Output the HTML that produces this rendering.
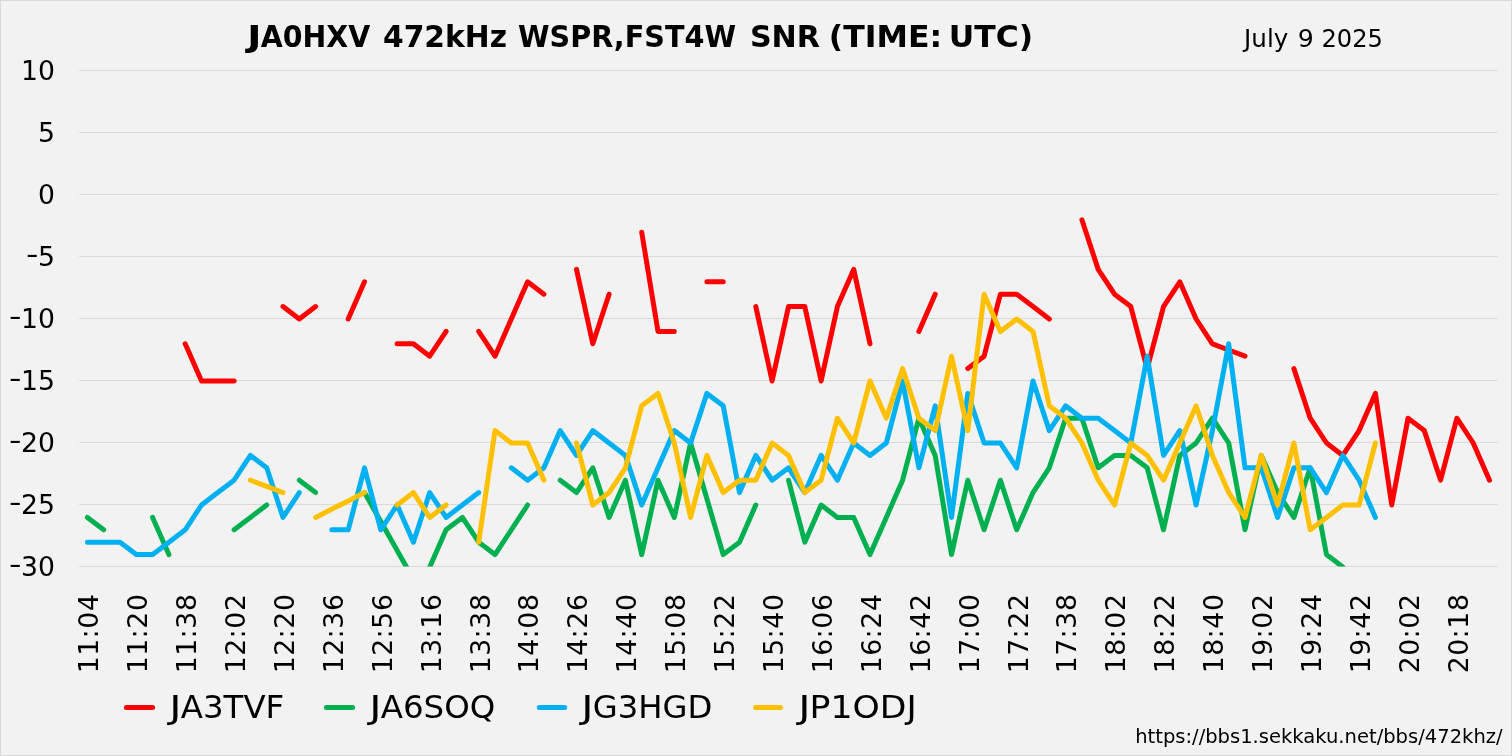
<!DOCTYPE html>
<html lang="en"><head><meta charset="utf-8"><title>JA0HXV 472kHz WSPR,FST4W SNR</title>
<style>html,body{margin:0;padding:0;background:#f2f2f2;}svg{display:block;}text{font-family:"DejaVu Sans","Liberation Sans",sans-serif;fill:#000;}</style></head><body>
<svg width="1512" height="756" viewBox="0 0 1512 756">
<rect x="0.5" y="0.5" width="1511" height="755" fill="#f2f2f2" stroke="#d9d9d9" stroke-width="1"/>
<path d="M79.2,70.5 H1497.7 M79.2,132.5 H1497.7 M79.2,194.5 H1497.7 M79.2,256.5 H1497.7 M79.2,318.5 H1497.7 M79.2,380.5 H1497.7 M79.2,442.5 H1497.7 M79.2,504.5 H1497.7 M79.2,566.5 H1497.7" stroke="#d9d9d9" stroke-width="1" fill="none"/>
<text x="21.1" y="79.6" font-size="26.67">10</text>
<text x="38.0" y="141.6" font-size="26.67">5</text>
<text x="38.0" y="203.6" font-size="26.67">0</text>
<text y="265.6" font-size="26.67"><tspan x="26.0" textLength="12.5" lengthAdjust="spacingAndGlyphs" dy="-2.3">-</tspan><tspan x="38.0" dy="2.3">5</tspan></text>
<text y="327.6" font-size="26.67"><tspan x="9.1" textLength="12.5" lengthAdjust="spacingAndGlyphs" dy="-2.3">-</tspan><tspan x="21.1" dy="2.3">10</tspan></text>
<text y="389.6" font-size="26.67"><tspan x="9.1" textLength="12.5" lengthAdjust="spacingAndGlyphs" dy="-2.3">-</tspan><tspan x="21.1" dy="2.3">15</tspan></text>
<text y="451.6" font-size="26.67"><tspan x="9.1" textLength="12.5" lengthAdjust="spacingAndGlyphs" dy="-2.3">-</tspan><tspan x="21.1" dy="2.3">20</tspan></text>
<text y="513.6" font-size="26.67"><tspan x="9.1" textLength="12.5" lengthAdjust="spacingAndGlyphs" dy="-2.3">-</tspan><tspan x="21.1" dy="2.3">25</tspan></text>
<text y="575.6" font-size="26.67"><tspan x="9.1" textLength="12.5" lengthAdjust="spacingAndGlyphs" dy="-2.3">-</tspan><tspan x="21.1" dy="2.3">30</tspan></text>
<text y="46.5" font-size="29.33" font-weight="bold"><tspan x="247.20" textLength="14.20" lengthAdjust="spacingAndGlyphs">J</tspan><tspan x="260.80" textLength="109.40" lengthAdjust="spacingAndGlyphs">A0HXV</tspan> <tspan x="382.98" textLength="124.03" lengthAdjust="spacingAndGlyphs">472kHz</tspan> <tspan x="517.98" textLength="218.02" lengthAdjust="spacingAndGlyphs">WSPR,FST4W</tspan> <tspan x="749.90" textLength="70.12" lengthAdjust="spacingAndGlyphs">SNR</tspan> <tspan x="828.85" textLength="113.37" lengthAdjust="spacingAndGlyphs">(TIME:</tspan> <tspan x="948.83" textLength="84.35" lengthAdjust="spacingAndGlyphs">UTC)</tspan></text>
<text y="47.1" font-size="24"><tspan x="1244.08" textLength="44.24" lengthAdjust="spacingAndGlyphs">July</tspan> <tspan x="1297.81" textLength="16.04" lengthAdjust="spacingAndGlyphs">9</tspan> <tspan x="1321.49" textLength="61.45" lengthAdjust="spacingAndGlyphs">2025</tspan></text>
<defs><clipPath id="pc"><rect x="75.2" y="60" width="1426.5" height="506.5"/></clipPath></defs>
<g clip-path="url(#pc)" fill="none" stroke-width="5" stroke-linecap="round" stroke-linejoin="round">
<path d="M185.2,343.8 L201.5,381.0 L217.8,381.0 L234.1,381.0 M283.0,306.6 L299.3,319.0 L315.6,306.6 M348.2,319.0 L364.5,281.8 M397.1,343.8 L413.4,343.8 L429.7,356.2 L446.1,331.4 M478.7,331.4 L495.0,356.2 L511.3,319.0 L527.6,281.8 L543.9,294.2 M576.5,269.4 L592.8,343.8 L609.1,294.2 M641.7,232.2 L658.0,331.4 L674.3,331.4 M706.9,281.8 L723.2,281.8 M755.8,306.6 L772.1,381.0 L788.5,306.6 L804.8,306.6 L821.1,381.0 L837.4,306.6 L853.7,269.4 L870.0,343.8 M918.9,331.4 L935.2,294.2 M967.8,368.6 L984.1,356.2 L1000.4,294.2 L1016.7,294.2 L1033.0,306.6 L1049.3,319.0 M1081.9,219.8 L1098.2,269.4 L1114.5,294.2 L1130.8,306.6 L1147.2,368.6 L1163.5,306.6 L1179.8,281.8 L1196.1,319.0 L1212.4,343.8 L1228.7,350.0 L1245.0,356.2 M1293.9,368.6 L1310.2,418.2 L1326.5,443.0 L1342.8,455.4 L1359.1,430.6 L1375.4,393.4 L1391.7,505.0 L1408.0,418.2 L1424.3,430.6 L1440.6,480.2 L1456.9,418.2 L1473.2,443.0 L1489.5,480.2" stroke="#ff0000"/>
<path d="M87.4,517.4 L103.7,529.8 M152.6,517.4 L168.9,554.6 M234.1,529.8 L250.4,517.4 L266.7,505.0 M299.3,480.2 L315.6,492.6 M364.5,492.6 L410.2,573.6 M426.5,574.4 L446.1,529.8 L462.4,517.4 L478.7,542.2 L495.0,554.6 L511.3,529.8 L527.6,505.0 M560.2,480.2 L576.5,492.6 L592.8,467.8 L609.1,517.4 L625.4,480.2 L641.7,554.6 L658.0,480.2 L674.3,517.4 L690.6,443.0 L706.9,498.8 L723.2,554.6 L739.5,542.2 L755.8,505.0 M788.5,480.2 L804.8,542.2 L821.1,505.0 L837.4,517.4 L853.7,517.4 L870.0,554.6 L886.3,517.4 L902.6,480.2 L918.9,418.2 L935.2,455.4 L951.5,554.6 L967.8,480.2 L984.1,529.8 L1000.4,480.2 L1016.7,529.8 L1033.0,492.6 L1049.3,467.8 L1065.6,418.2 L1081.9,418.2 L1098.2,467.8 L1114.5,455.4 L1130.8,455.4 L1147.2,467.8 L1163.5,529.8 L1179.8,455.4 L1196.1,443.0 L1212.4,418.2 L1228.7,443.0 L1245.0,529.8 L1261.3,455.4 L1277.6,492.6 L1293.9,517.4 L1310.2,467.8 L1326.5,554.6 L1342.8,567.0" stroke="#00b050"/>
<path d="M87.4,542.2 L103.7,542.2 L120.0,542.2 L136.3,554.6 L152.6,554.6 L168.9,542.2 L185.2,529.8 L201.5,505.0 L217.8,492.6 L234.1,480.2 L250.4,455.4 L266.7,467.8 L283.0,517.4 L299.3,492.6 M331.9,529.8 L348.2,529.8 L364.5,467.8 L380.8,529.8 L397.1,505.0 L413.4,542.2 L429.7,492.6 L446.1,517.4 L462.4,505.0 L478.7,492.6 M511.3,467.8 L527.6,480.2 L543.9,467.8 L560.2,430.6 L576.5,455.4 L592.8,430.6 L609.1,443.0 L625.4,455.4 L641.7,505.0 L658.0,467.8 L674.3,430.6 L690.6,443.0 L706.9,393.4 L723.2,405.8 L739.5,492.6 L755.8,455.4 L772.1,480.2 L788.5,467.8 L804.8,492.6 L821.1,455.4 L837.4,480.2 L853.7,443.0 L870.0,455.4 L886.3,443.0 L902.6,381.0 L918.9,467.8 L935.2,405.8 L951.5,517.4 L967.8,393.4 L984.1,443.0 L1000.4,443.0 L1016.7,467.8 L1033.0,381.0 L1049.3,430.6 L1065.6,405.8 L1081.9,418.2 L1098.2,418.2 L1114.5,430.6 L1130.8,443.0 L1147.2,356.2 L1163.5,455.4 L1179.8,430.6 L1196.1,505.0 L1212.4,430.6 L1228.7,343.8 L1245.0,467.8 L1261.3,467.8 L1277.6,517.4 L1293.9,467.8 L1310.2,467.8 L1326.5,492.6 L1342.8,455.4 L1359.1,480.2 L1375.4,517.4" stroke="#00b0f0"/>
<path d="M250.4,480.2 L266.7,486.4 L283.0,492.6 M315.6,517.4 L331.9,509.1 L348.2,500.9 L364.5,492.6 M397.1,505.0 L413.4,492.6 L429.7,517.4 L446.1,505.0 M478.7,542.2 L495.0,430.6 L511.3,443.0 L527.6,443.0 L543.9,480.2 M576.5,443.0 L592.8,505.0 L609.1,492.6 L625.4,467.8 L641.7,405.8 L658.0,393.4 L674.3,443.0 L690.6,517.4 L706.9,455.4 L723.2,492.6 L739.5,480.2 L755.8,480.2 L772.1,443.0 L788.5,455.4 L804.8,492.6 L821.1,480.2 L837.4,418.2 L853.7,443.0 L870.0,381.0 L886.3,418.2 L902.6,368.6 L918.9,418.2 L935.2,430.6 L951.5,356.2 L967.8,430.6 L984.1,294.2 L1000.4,331.4 L1016.7,319.0 L1033.0,331.4 L1049.3,405.8 L1065.6,418.2 L1081.9,443.0 L1098.2,480.2 L1114.5,505.0 L1130.8,443.0 L1147.2,455.4 L1163.5,480.2 L1179.8,443.0 L1196.1,405.8 L1212.4,455.4 L1228.7,492.6 L1245.0,517.4 L1261.3,455.4 L1277.6,505.0 L1293.9,443.0 L1310.2,529.8 L1326.5,517.4 L1342.8,505.0 L1359.1,505.0 L1375.4,443.0" stroke="#ffc000"/>
</g>
<text transform="translate(98.2,673.2) rotate(-90)" font-size="26.67" textLength="79.05" lengthAdjust="spacing">11:04</text>
<text transform="translate(147.1,673.2) rotate(-90)" font-size="26.67" textLength="79.05" lengthAdjust="spacing">11:20</text>
<text transform="translate(196.0,673.2) rotate(-90)" font-size="26.67" textLength="79.05" lengthAdjust="spacing">11:38</text>
<text transform="translate(244.9,673.2) rotate(-90)" font-size="26.67" textLength="79.05" lengthAdjust="spacing">12:02</text>
<text transform="translate(293.8,673.2) rotate(-90)" font-size="26.67" textLength="79.05" lengthAdjust="spacing">12:20</text>
<text transform="translate(342.7,673.2) rotate(-90)" font-size="26.67" textLength="79.05" lengthAdjust="spacing">12:36</text>
<text transform="translate(391.6,673.2) rotate(-90)" font-size="26.67" textLength="79.05" lengthAdjust="spacing">12:56</text>
<text transform="translate(440.5,673.2) rotate(-90)" font-size="26.67" textLength="79.05" lengthAdjust="spacing">13:16</text>
<text transform="translate(489.5,673.2) rotate(-90)" font-size="26.67" textLength="79.05" lengthAdjust="spacing">13:38</text>
<text transform="translate(538.4,673.2) rotate(-90)" font-size="26.67" textLength="79.05" lengthAdjust="spacing">14:08</text>
<text transform="translate(587.3,673.2) rotate(-90)" font-size="26.67" textLength="79.05" lengthAdjust="spacing">14:26</text>
<text transform="translate(636.2,673.2) rotate(-90)" font-size="26.67" textLength="79.05" lengthAdjust="spacing">14:40</text>
<text transform="translate(685.1,673.2) rotate(-90)" font-size="26.67" textLength="79.05" lengthAdjust="spacing">15:08</text>
<text transform="translate(734.0,673.2) rotate(-90)" font-size="26.67" textLength="79.05" lengthAdjust="spacing">15:22</text>
<text transform="translate(782.9,673.2) rotate(-90)" font-size="26.67" textLength="79.05" lengthAdjust="spacing">15:40</text>
<text transform="translate(831.9,673.2) rotate(-90)" font-size="26.67" textLength="79.05" lengthAdjust="spacing">16:06</text>
<text transform="translate(880.8,673.2) rotate(-90)" font-size="26.67" textLength="79.05" lengthAdjust="spacing">16:24</text>
<text transform="translate(929.7,673.2) rotate(-90)" font-size="26.67" textLength="79.05" lengthAdjust="spacing">16:42</text>
<text transform="translate(978.6,673.2) rotate(-90)" font-size="26.67" textLength="79.05" lengthAdjust="spacing">17:00</text>
<text transform="translate(1027.5,673.2) rotate(-90)" font-size="26.67" textLength="79.05" lengthAdjust="spacing">17:22</text>
<text transform="translate(1076.4,673.2) rotate(-90)" font-size="26.67" textLength="79.05" lengthAdjust="spacing">17:38</text>
<text transform="translate(1125.3,673.2) rotate(-90)" font-size="26.67" textLength="79.05" lengthAdjust="spacing">18:02</text>
<text transform="translate(1174.3,673.2) rotate(-90)" font-size="26.67" textLength="79.05" lengthAdjust="spacing">18:22</text>
<text transform="translate(1223.2,673.2) rotate(-90)" font-size="26.67" textLength="79.05" lengthAdjust="spacing">18:40</text>
<text transform="translate(1272.1,673.2) rotate(-90)" font-size="26.67" textLength="79.05" lengthAdjust="spacing">19:02</text>
<text transform="translate(1321.0,673.2) rotate(-90)" font-size="26.67" textLength="79.05" lengthAdjust="spacing">19:24</text>
<text transform="translate(1369.9,673.2) rotate(-90)" font-size="26.67" textLength="79.05" lengthAdjust="spacing">19:42</text>
<text transform="translate(1418.8,673.2) rotate(-90)" font-size="26.67" textLength="79.05" lengthAdjust="spacing">20:02</text>
<text transform="translate(1467.7,673.2) rotate(-90)" font-size="26.67" textLength="79.05" lengthAdjust="spacing">20:18</text>
<path d="M126.4,707.5 h26.2" stroke="#ff0000" stroke-width="5" stroke-linecap="round" fill="none"/>
<text y="717.7" font-size="32"><tspan x="169.30" textLength="12.27" lengthAdjust="spacingAndGlyphs">J</tspan><tspan x="180.74" textLength="103.53" lengthAdjust="spacingAndGlyphs">A3TVF</tspan></text>
<path d="M326.4,707.5 h26.2" stroke="#00b050" stroke-width="5" stroke-linecap="round" fill="none"/>
<text y="717.7" font-size="32"><tspan x="369.30" textLength="12.27" lengthAdjust="spacingAndGlyphs">J</tspan><tspan x="380.75" textLength="114.54" lengthAdjust="spacingAndGlyphs">A6SOQ</tspan></text>
<path d="M539.3,707.5 h25.4" stroke="#00b0f0" stroke-width="5" stroke-linecap="round" fill="none"/>
<text y="717.7" font-size="32"><tspan x="581.30" textLength="12.27" lengthAdjust="spacingAndGlyphs">J</tspan><tspan x="592.70" textLength="119.61" lengthAdjust="spacingAndGlyphs">G3HGD</tspan></text>
<path d="M755.5,707.5 h25.1" stroke="#ffc000" stroke-width="5" stroke-linecap="round" fill="none"/>
<text y="717.7" font-size="32"><tspan x="798.20" textLength="12.27" lengthAdjust="spacingAndGlyphs">J</tspan><tspan x="809.59" textLength="107.03" lengthAdjust="spacingAndGlyphs">P1ODJ</tspan></text>
<text x="1135.19" y="742.8" font-size="18.67" textLength="367.42" lengthAdjust="spacingAndGlyphs">https://bbs1.sekkaku.net/bbs/472khz/</text>
</svg></body></html>
